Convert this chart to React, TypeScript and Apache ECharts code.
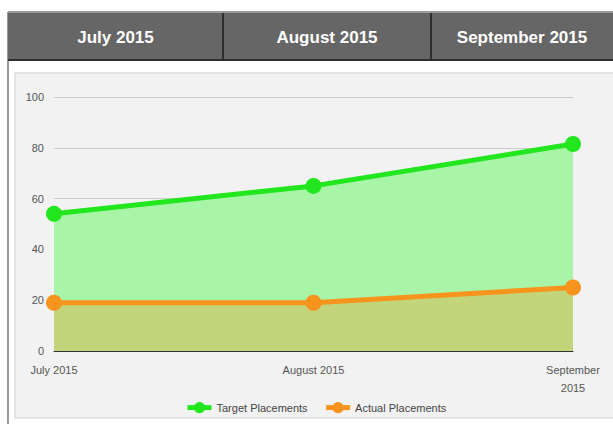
import React, { useEffect, useRef } from "react";
import * as echarts from "echarts";

const categories = ["July 2015", "August 2015", "September 2015"];
const targetPlacements = [54, 65, 81.5];
const actualPlacements = [19, 19, 25];
const headerLabels = ["July 2015", "August 2015", "September 2015"];
const yTicks = { min: 0, max: 100, interval: 20 };

const FONT = "'Liberation Sans Narrow', 'Liberation Sans', Arial, sans-serif";

export default function App() {
  const ref = useRef<HTMLDivElement>(null);
  useEffect(() => {
    if (!ref.current) return;
    const chart = echarts.init(ref.current, null, { renderer: "svg" });
    const headerCells = [
      { x: 8, w: 215 },
      { x: 223, w: 208 },
      { x: 431, w: 182 },
    ];
    const graphic: any[] = [
      { type: "rect", z: -20, shape: { x: 7, y: 12, width: 2, height: 412 }, style: { fill: "#9a9a9a" } },
      { type: "rect", z: -20, shape: { x: 15, y: 73, width: 600, height: 345 }, style: { fill: "#f2f2f2", stroke: "#cfcfcf", lineWidth: 1 } },
      { type: "rect", z: -20, shape: { x: 8, y: 12, width: 605, height: 48 }, style: { fill: "#666666" } },
      { type: "rect", z: -19, shape: { x: 8, y: 11, width: 605, height: 2 }, style: { fill: "#9a9a9a" } },
      { type: "rect", z: -19, shape: { x: 8, y: 59, width: 605, height: 2 }, style: { fill: "#2e2e2e" } },
      { type: "rect", z: -19, shape: { x: 222, y: 13, width: 2, height: 47 }, style: { fill: "#2e2e2e" } },
      { type: "rect", z: -19, shape: { x: 430, y: 13, width: 2, height: 47 }, style: { fill: "#2e2e2e" } },
      ...headerCells.map((c, i) => ({
        type: "text",
        z: -18,
        x: c.x + c.w / 2,
        y: 37,
        style: {
          text: headerLabels[i],
          fill: "#ffffff",
          font: `bold 17px ${FONT}`,
          textAlign: "center",
          textVerticalAlign: "middle",
        },
      })),
    ];
    chart.setOption({
      animation: false,
      backgroundColor: "#ffffff",
      graphic,
      grid: { left: 54, right: 40, top: 97, bottom: 73 },
      legend: {
        data: ["Target Placements", "Actual Placements"],
        left: 180,
        top: 397,
        itemWidth: 24,
        itemHeight: 14,
        itemGap: 16,
        lineStyle: { width: 5 },
        textStyle: { color: "#444", fontSize: 11, fontFamily: FONT },
      },
      xAxis: {
        type: "category",
        data: categories,
        boundaryGap: false,
        axisLine: { lineStyle: { color: "#333", width: 1 } },
        axisTick: { show: false },
        axisLabel: {
          color: "#555",
          fontSize: 11,
          fontFamily: FONT,
          margin: 10,
          interval: 0,
          formatter: (v: string) => (v === "September 2015" ? "September\n2015" : v),
          lineHeight: 18,
        },
      },
      yAxis: {
        type: "value",
        min: yTicks.min,
        max: yTicks.max,
        interval: yTicks.interval,
        axisLine: { show: false },
        axisTick: { show: false },
        splitLine: { lineStyle: { color: "#cccccc", width: 1 } },
        axisLabel: { color: "#555", fontSize: 11, fontFamily: FONT, margin: 10 },
      },
      series: [
        {
          name: "Target Placements",
          type: "line",
          data: targetPlacements,
          color: "#22e61e",
          lineStyle: { width: 5, color: "#22e61e" },
          symbol: "circle",
          symbolSize: 16,
          itemStyle: { color: "#22e61e" },
          areaStyle: { color: "#a9f5a8", opacity: 1 },
          z: 2,
        },
        {
          name: "Actual Placements",
          type: "line",
          data: actualPlacements,
          color: "#f7941d",
          lineStyle: { width: 5, color: "#f7941d" },
          symbol: "circle",
          symbolSize: 16,
          itemStyle: { color: "#f7941d" },
          areaStyle: { color: "#f7941d", opacity: 0.33 },
          z: 3,
        },
      ],
    });
    return () => chart.dispose();
  }, []);
  return (
    <div
      ref={ref}
      style={{ position: "absolute", left: 0, top: 0, width: 613, height: 424 }}
    />
  );
}
